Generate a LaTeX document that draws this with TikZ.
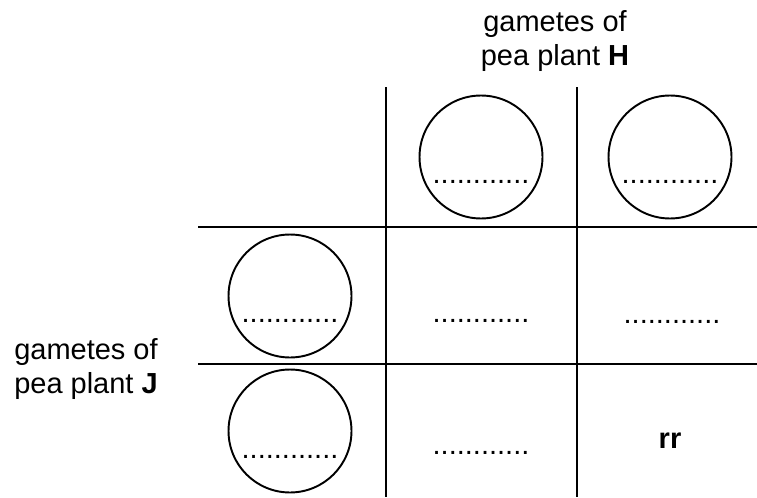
\documentclass[tikz,border=0pt]{standalone}
\usepackage{fontspec}
\setmainfont{Liberation Sans}
\usepackage{tikz}
\usetikzlibrary{positioning}
\newcommand{\blanks}{............}
\tikzset{
  gcirc/.style  ={draw, circle, minimum size=2.46cm, inner sep=0pt,
                  line width=1.1pt},
  gridln/.style ={line width=1.2pt, line cap=butt},
  blnk/.style   ={anchor=base, inner sep=0pt, font=\fontsize{16.5}{18.8}\selectfont},
  capt/.style   ={anchor=base, inner sep=0pt, align=center,
                  font=\fontsize{16.5}{18.8}\selectfont},
}
\begin{document}
\begin{tikzpicture}[x=0.02cm, y=-0.02cm]
  \useasboundingbox (0,0) rectangle (757,497);
  % punnett grid
  \draw[gridln] (386,87) -- (386,497);
  \draw[gridln] (577,87) -- (577,497);
  \draw[gridln] (198,227) -- (757,227);
  \draw[gridln] (198,364) -- (757,364);
  % gametes
  \node[gcirc] (h1) at (481,157) {};
  \node[gcirc] (h2) at (670,157) {};
  \node[gcirc] (j1) at (290,296) {};
  \node[gcirc] (j2) at (290,431) {};
  \node[blnk] (h1b) at (481,183) {\blanks};
  \node[blnk] (h2b) at (670,183) {\blanks};
  \node[blnk] (j1b) at (290,322) {\blanks};
  \node[blnk] (j2b) at (290,458) {\blanks};
  % offspring
  \node[blnk] (c11) at (481,322) {\blanks};
  \node[blnk] (c12) at (672,323) {\blanks};
  \node[blnk] (c21) at (481,454) {\blanks};
  \node[blnk, font=\fontsize{16.5}{18.8}\selectfont\bfseries] (c22) at (670,448) {rr};
  % captions (base = last line)
  \node[capt] (hcap) at (555,65) {gametes of\\pea plant \textbf{H}};
  \node[capt] (jcap) at (86,393) {gametes of\\pea plant \textbf{J}};
\end{tikzpicture}
\end{document}
